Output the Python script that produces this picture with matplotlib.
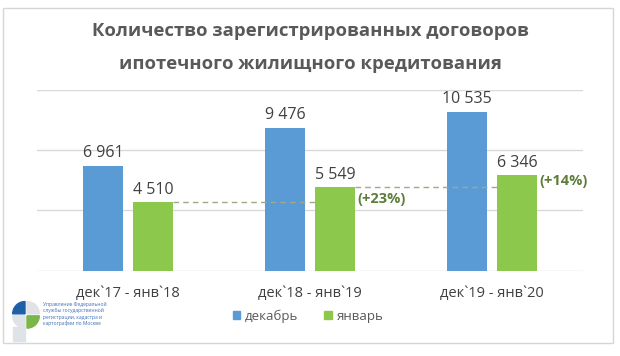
import matplotlib
matplotlib.use("Agg")
import matplotlib.pyplot as plt
from matplotlib.patches import Rectangle, Wedge, Patch
import numpy as np

plt.rcParams['font.family'] = ['Open Sans', 'DejaVu Sans']

title_lines = ["Количество зарегистрированных договоров", "ипотечного жилищного кредитования"]
categories = ["дек`17 - янв`18", "дек`18 - янв`19", "дек`19 - янв`20"]
december = [6961, 9476, 10535]
january = [4510, 5549, 6346]
series_names = ["декабрь", "январь"]
logo_text = ["Управление Федеральной", "службы государственной", "регистрации, кадастра и", "картографии по Москве"]

BLUE = "#5b9bd5"
GREEN = "#8cc84b"
W, H = 620, 356

fig = plt.figure(figsize=(W / 100, H / 100), dpi=100)
fig.patch.set_facecolor("white")

# card border
fig.add_artist(Rectangle((3 / W, 1 - 343 / H), 610 / W, 335 / H, transform=fig.transFigure,
                         facecolor="none", edgecolor="#d6d6d6", lw=1.0))

ax = fig.add_axes([37 / W, 1 - 270.5 / H, 546 / W, 181 / H])
x = np.arange(len(categories))
off, bw = 0.1375, 0.22
ax.bar(x - off, december, bw, color=BLUE, zorder=2)
ax.bar(x + off, january, bw, color=GREEN, zorder=2)
ax.set_xlim(-0.5, 2.5)
ax.set_ylim(0, 12000)
ax.set_yticks([0, 4000, 8000, 12000])
ax.grid(axis="y", color="#d9d9d9", lw=1.0, zorder=0)
ax.tick_params(axis="y", length=0, labelleft=False)
ax.tick_params(axis="x", length=0, pad=11)
ax.set_xticks(x)
ax.set_xticklabels(categories, fontsize=10.5, color="#404040")
for s in ax.spines.values():
    s.set_visible(False)

def fmt(v):
    return f"{v:,}".replace(",", " ")

for i in range(len(categories)):
    ax.annotate(fmt(december[i]), (x[i] - off, december[i]), xytext=(0, 3), textcoords="offset points",
                ha="center", va="bottom", fontsize=11.5, color="#404040")
    ax.annotate(fmt(january[i]), (x[i] + off, january[i]), xytext=(0, 3), textcoords="offset points",
                ha="center", va="bottom", fontsize=11.5, color="#404040")

# dashed comparison lines and growth labels
pct_offsets = [(2, -9), (2, -4.5)]
for i in range(1, len(categories)):
    x0 = x[i - 1] + off + bw / 2
    x1 = x[i] + off - bw / 2
    ax.plot([x0, x1], [january[i - 1], january[i - 1]], ls=(0, (4, 3)), color="#a0a888", lw=1.0, zorder=3)
    pct = round(january[i] / january[i - 1] * 100 - 100)
    ax.annotate(f"(+{pct}%)", (x[i] + off + bw / 2, january[i]), xytext=pct_offsets[i - 1],
                textcoords="offset points", ha="left", va="center", fontsize=10.5,
                fontweight="bold", color="#5e7d3a")

# title
fig.text(310 / W, 1 - 31 / H, title_lines[0], ha="center", va="center", fontsize=13.3,
         fontweight="bold", color="#595959")
fig.text(310 / W, 1 - 64 / H, title_lines[1], ha="center", va="center", fontsize=13.3,
         fontweight="bold", color="#595959")

# legend
handles = [Patch(color=BLUE), Patch(color=GREEN)]
fig.legend(handles, series_names, loc="center", bbox_to_anchor=(308 / W, 1 - 316 / H), ncol=2,
           frameon=False, fontsize=9.5, labelcolor="#595959", handlelength=0.55, handleheight=0.55,
           handletextpad=0.35, columnspacing=2.0)

# logo
lax = fig.add_axes([10 / W, 1 - 346 / H, 32 / W, 50 / H])
lax.set_xlim(-1.3, 1.3)
lax.set_ylim(-2.3, 1.3)
lax.set_aspect("equal")
lax.axis("off")
lax.add_patch(Wedge((-0.08, 0.08), 1.0, 90, 180, color="#1f5fa8"))
lax.add_patch(Wedge((0.08, 0.08), 1.0, 0, 90, color="#dfe3e8"))
lax.add_patch(Wedge((0.08, -0.08), 1.0, 270, 360, color="#7ab648"))
lax.add_patch(Wedge((-0.08, -0.08), 1.0, 180, 270, color="#dfe3e8"))
lax.add_patch(Rectangle((-1.08, -2.1), 1.0, 1.1, color="#dfe3e8"))
for k, line in enumerate(logo_text):
    fig.text(43 / W, 1 - (304 + k * 6.5) / H, line, ha="left", va="center", fontsize=3.6, color="#3d6fb6")

fig.savefig("out.png", dpi=100, facecolor="white")
